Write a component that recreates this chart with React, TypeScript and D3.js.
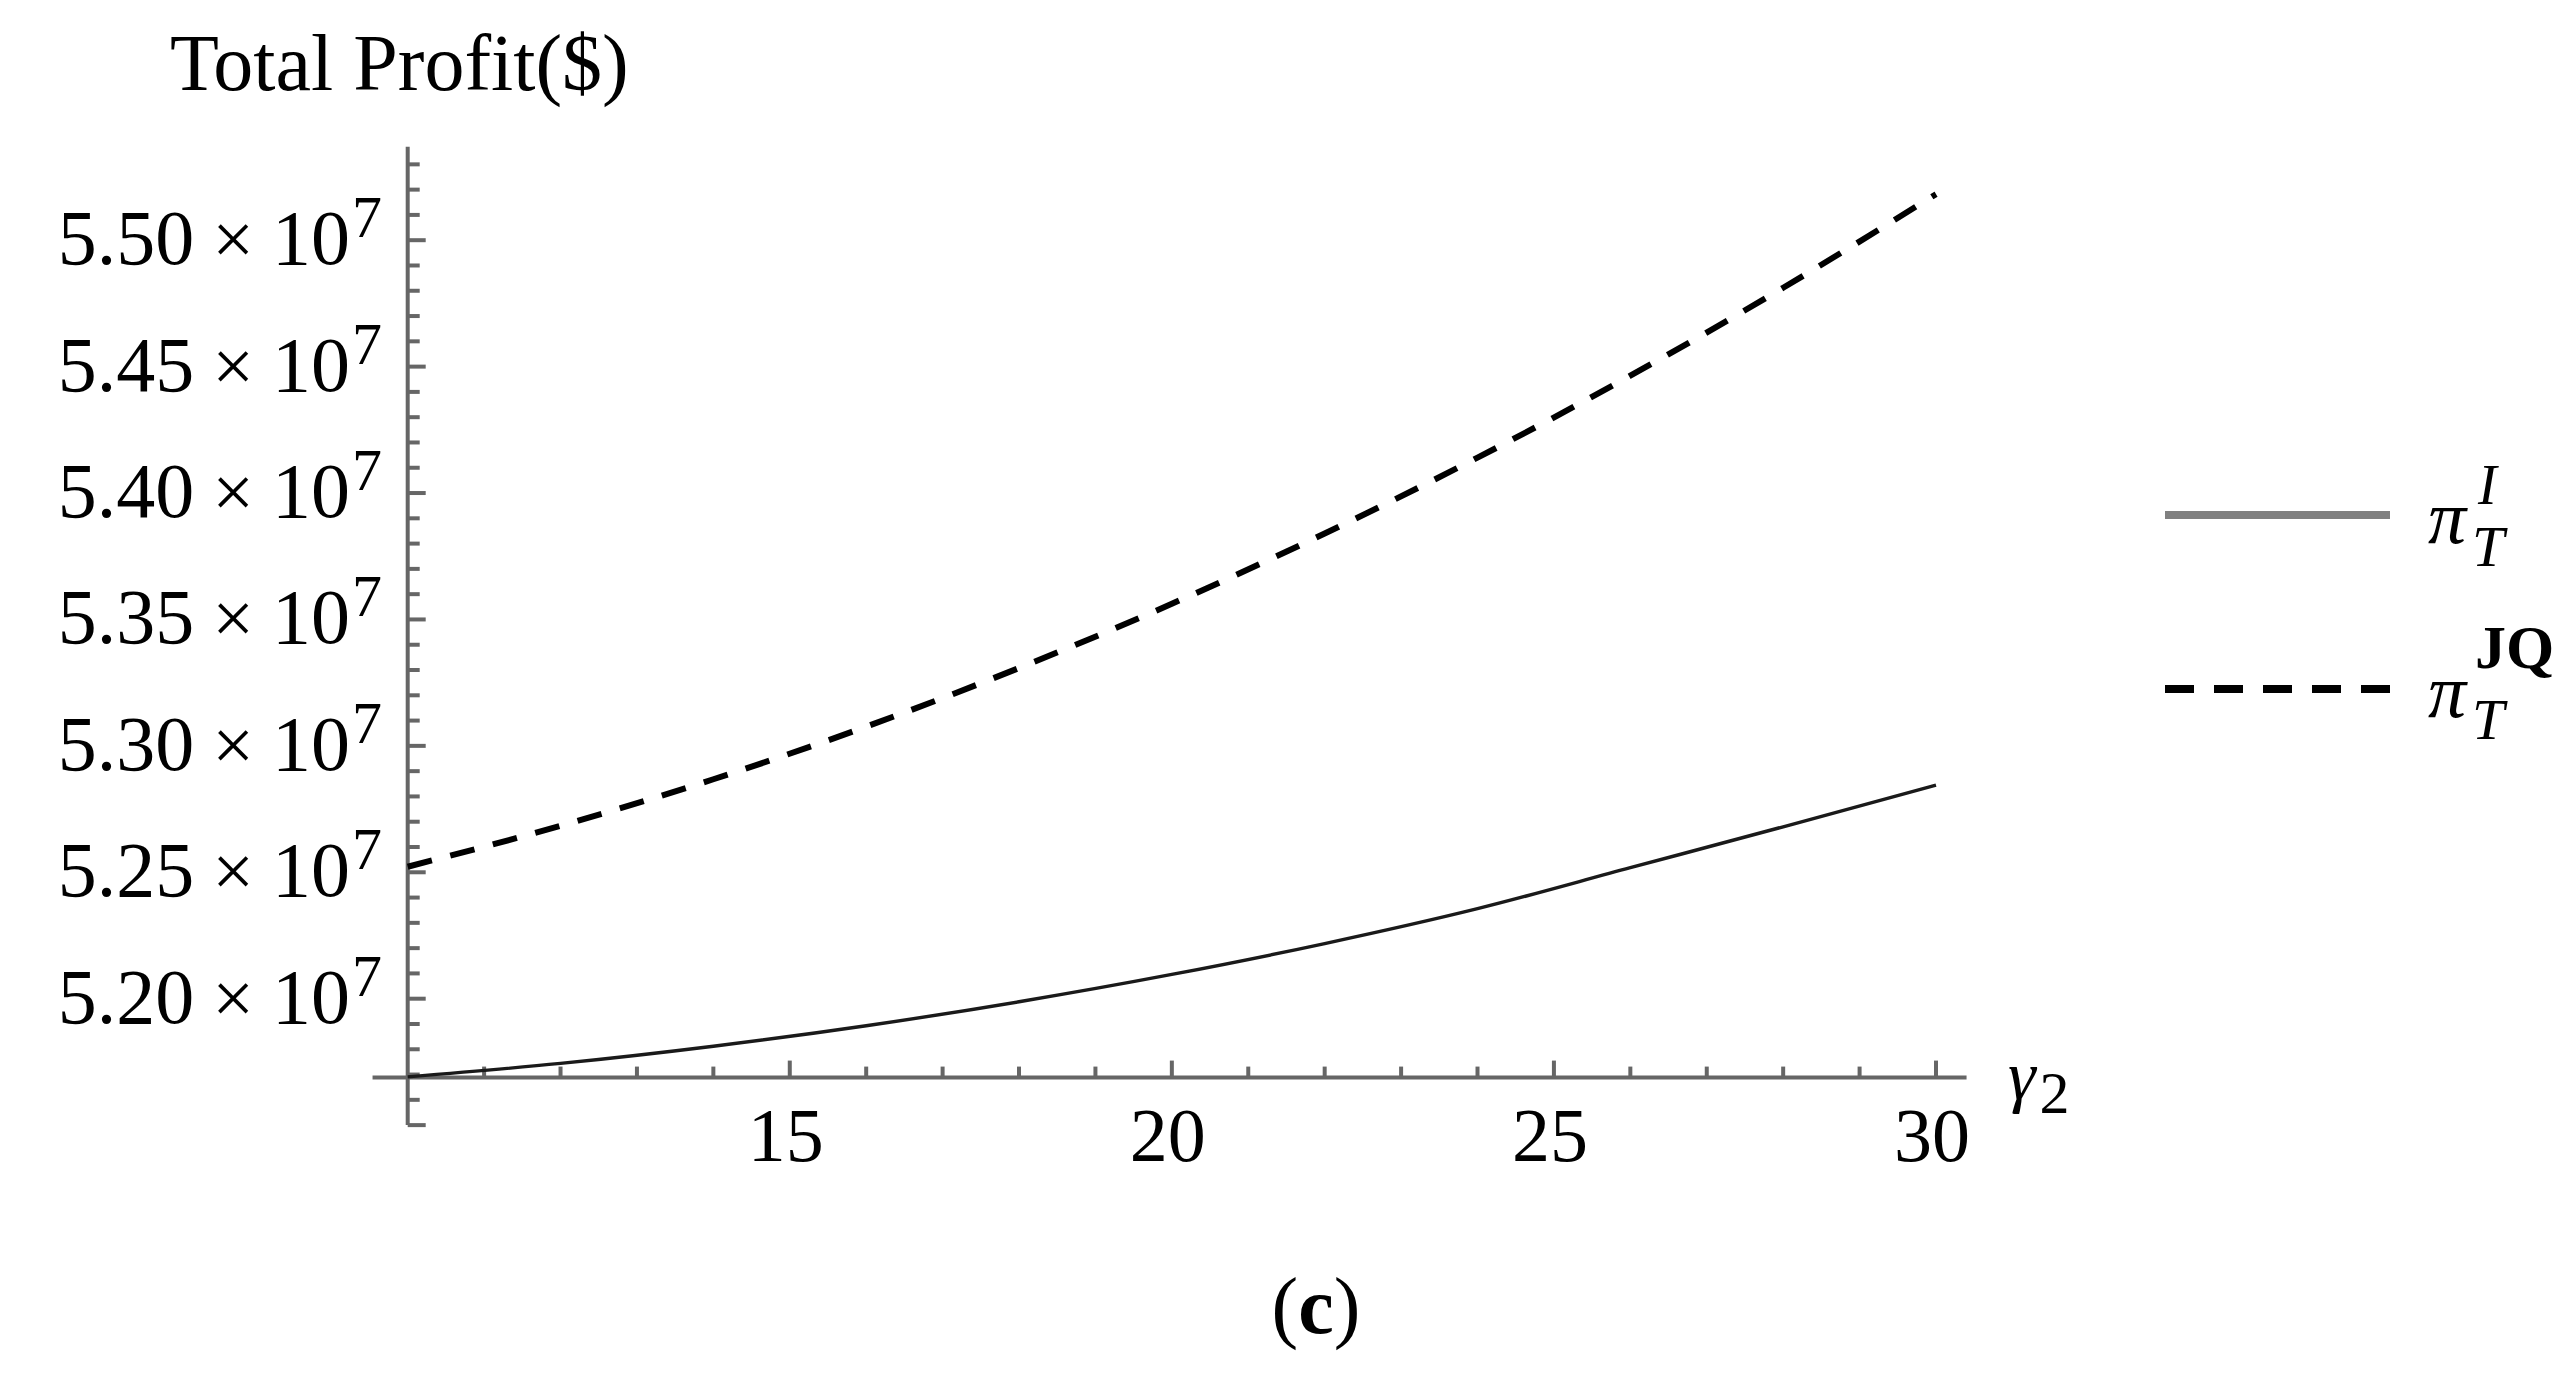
import * as d3 from 'd3'

// gamma_2 sample points and total profit (in $)
const gammaValues = [10, 12, 14, 16, 18, 20, 22, 24, 26, 28, 30]
const profitIndependent = [5.1691e7, 5.1744e7, 5.1812e7, 5.1893e7, 5.1988e7, 5.2096e7, 5.2218e7, 5.2356e7, 5.2518e7, 5.2680e7, 5.2845e7]
const profitJQ = [5.2522e7, 5.2684e7, 5.2868e7, 5.3076e7, 5.3308e7, 5.3562e7, 5.3840e7, 5.4140e7, 5.4464e7, 5.4812e7, 5.5182e7]

const yTickValues = [5.20e7, 5.25e7, 5.30e7, 5.35e7, 5.40e7, 5.45e7, 5.50e7]
const yTickLabels = ['5.20', '5.25', '5.30', '5.35', '5.40', '5.45', '5.50']
const xTickValues = [15, 20, 25, 30]
const xTickLabels = ['15', '20', '25', '30']

const W = 2576
const H = 1390
const serif = '"Liberation Serif", "Times New Roman", serif'
const axisColor = '#666666'

export default function App() {
  const x = d3.scaleLinear().domain([10, 30]).range([407.7, 1936])
  const y = d3.scaleLinear().domain([5.2e7, 5.5e7]).range([998.7, 240.2])

  // axes cross here (Mathematica style), and run a bit past the data
  const originY = y(5.1688e7)
  const originX = x(10)
  const xAxisEnds = [x(9.54), x(30.4)]
  const yAxisEnds = [y(5.15e7), y(5.537e7)]

  const yMinor = d3.range(515, 554).map(v => ({ v: (v / 100) * 1e7, major: v % 5 === 0 }))
  const xMinor = d3.range(11, 31).map(v => ({ v, major: v % 5 === 0 }))

  const line = d3.line<number>()
    .x((_, i) => x(gammaValues[i]))
    .y(d => y(d))
    .curve(d3.curveMonotoneX)

  return (
    <svg width={W} height={H} style={{ position: 'absolute', left: 0, top: 0, background: '#fff' }} fontFamily={serif}>
      {/* title */}
      <text x={170} y={90} fontSize={80} fill="#000">Total Profit($)</text>

      {/* y axis */}
      <line x1={originX} x2={originX} y1={yAxisEnds[0]} y2={yAxisEnds[1]} stroke={axisColor} strokeWidth={4} />
      {yMinor.map(t => (
        <line key={'yt' + t.v} x1={originX} x2={originX + (t.major ? 18 : 12)} y1={y(t.v)} y2={y(t.v)} stroke={axisColor} strokeWidth={4} />
      ))}
      {yTickValues.map((v, i) => (
        <text key={'yl' + v} x={382} y={y(v) + 24} textAnchor="end" fontSize={78} fill="#000">
          <tspan>{yTickLabels[i]}</tspan>
          <tspan dx={18} fontSize={74}>×</tspan>
          <tspan dx={18}>10</tspan>
          <tspan dx={2} dy={-27} fontSize={60}>7</tspan>
        </text>
      ))}

      {/* x axis */}
      <line x1={xAxisEnds[0]} x2={xAxisEnds[1]} y1={originY} y2={originY} stroke={axisColor} strokeWidth={4} />
      {xMinor.map(t => (
        <line key={'xt' + t.v} x1={x(t.v)} x2={x(t.v)} y1={originY} y2={originY - (t.major ? 17 : 11)} stroke={axisColor} strokeWidth={4} />
      ))}
      {xTickValues.map((v, i) => (
        <text key={'xl' + v} x={x(v) - 4} y={originY + 83} textAnchor="middle" fontSize={76} fill="#000">{xTickLabels[i]}</text>
      ))}
      <text x={2008} y={1099} fontSize={70} fill="#000">
        <tspan fontStyle="italic">γ</tspan>
        <tspan dx={4} dy={14} fontSize={60}>2</tspan>
      </text>

      {/* curves */}
      <path d={line(profitIndependent) ?? ''} fill="none" stroke="#1a1a1a" strokeWidth={3.4} />
      <path d={line(profitJQ) ?? ''} fill="none" stroke="#000" strokeWidth={6} strokeDasharray="25 19" />

      {/* legend */}
      <line x1={2165} x2={2390} y1={515} y2={515} stroke="#808080" strokeWidth={8} />
      <text x={2428} y={543} fontSize={76} fontStyle="italic" fill="#000">π</text>
      <text x={2478} y={504} fontSize={56} fontStyle="italic" fill="#000">I</text>
      <text x={2472} y={566} fontSize={58} fontStyle="italic" fill="#000">T</text>

      <line x1={2165} x2={2390} y1={689} y2={689} stroke="#000" strokeWidth={8} strokeDasharray="29 20" />
      <text x={2428} y={717} fontSize={76} fontStyle="italic" fill="#000">π</text>
      <text x={2475} y={668} fontSize={62} fontWeight="bold" fill="#000">JQ</text>
      <text x={2472} y={739} fontSize={58} fontStyle="italic" fill="#000">T</text>

      {/* panel label */}
      <text x={1316} y={1333} textAnchor="middle" fontSize={80} fill="#000">
        <tspan>(</tspan>
        <tspan fontWeight="bold">c</tspan>
        <tspan>)</tspan>
      </text>
    </svg>
  )
}
